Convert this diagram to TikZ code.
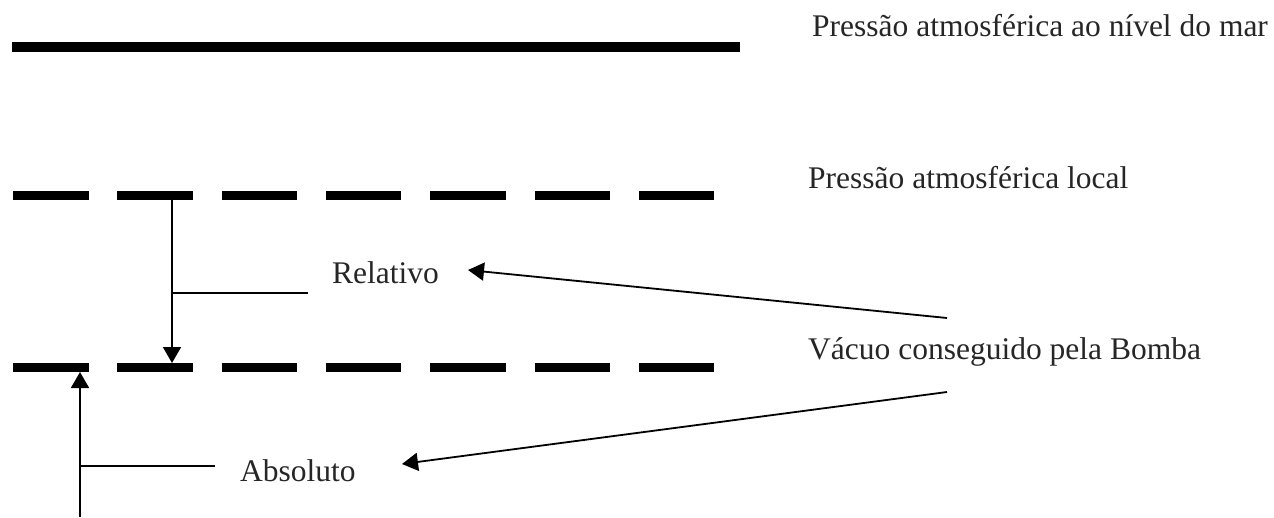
\documentclass[tikz,border=0pt]{standalone}
\usepackage{fontspec}
\setmainfont{Liberation Serif}
\usetikzlibrary{arrows.meta}
\begin{document}
\begin{tikzpicture}[x=1pt,y=-1pt,
  level/.style={line width=9.5pt},
  dashlevel/.style={line width=9pt,dash pattern=on 75.5pt off 28.8pt},
  thinarrow/.style={line width=1.8pt,-{Triangle[width=18pt,length=16pt]}},
  tick/.style={line width=1.3pt},
  lbl/.style={anchor=base west,inner sep=0pt,font=\fontsize{31.5}{36}\selectfont,text=black!85}]
\useasboundingbox (0,0) rectangle (1274,517);
% levels
\coordinate (sL) at (12,47);   \coordinate (sR) at (740,47);
\coordinate (l1L) at (13,195.5); \coordinate (l1R) at (716,195.5);
\coordinate (l2L) at (13,367);   \coordinate (l2R) at (716,367);
\draw[level] (sL) -- (sR);
\draw[dashlevel] (l1L) -- (l1R);
\draw[dashlevel] (l2L) -- (l2R);
% labels
\node[lbl] (mar) at (812,36) {Pressão atmosférica ao nível do mar};
\node[lbl] (local) at (808,188) {Pressão atmosférica local};
\node[lbl] (rel) at (332,283) {Relativo};
\node[lbl] (abs) at (240,481) {Absoluto};
\node[lbl] (vac) at (808,359) {Vácuo conseguido pela Bomba};
% relativo arrow
\coordinate (rTop) at (172,195);
\coordinate (rBot) at (172,363);
\coordinate (rMid) at (172,293);
\coordinate (rTick) at (308,293);
\draw[thinarrow] (rTop) -- (rBot);
\draw[tick] (rMid) -- (rTick);
% absoluto arrow
\coordinate (aBot) at (80,517);
\coordinate (aTop) at (80,372);
\coordinate (aMid) at (80,466);
\coordinate (aTick) at (215,466);
\draw[thinarrow] (aBot) -- (aTop);
\draw[tick] (aMid) -- (aTick);
% pointers from vacuum label
\coordinate (v1) at (947,318);
\coordinate (v2) at (947,392);
\coordinate (relTip) at (468,270);
\coordinate (absTip) at (402,464);
\draw[thinarrow] (v1) -- (relTip);
\draw[thinarrow] (v2) -- (absTip);
\end{tikzpicture}
\end{document}
